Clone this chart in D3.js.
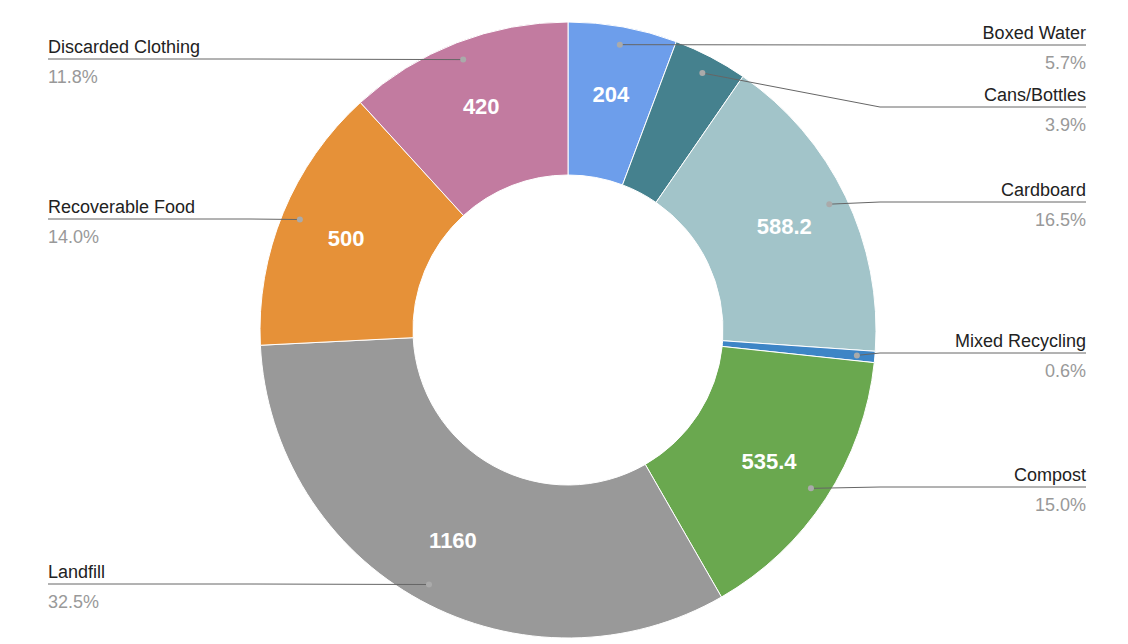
<!DOCTYPE html>
<html><head><meta charset="utf-8">
<script src="https://cdn.jsdelivr.net/npm/d3@7"></script>
<style>body{margin:0;background:#fff}</style></head>
<body><svg id="c" width="1128" height="644"></svg>
<script>
const categories=["Boxed Water","Cans/Bottles","Cardboard","Mixed Recycling","Compost","Landfill","Recoverable Food","Discarded Clothing"];
const values=[204,139,588.2,21,535.4,1160,500,420];
const percents=["5.7%","3.9%","16.5%","0.6%","15.0%","32.5%","14.0%","11.8%"];
const valueLabels=["204","","588.2","","535.4","1160","500","420"];
const colors=["#6d9eeb","#45818e","#a2c4c9","#3d85c6","#6aa84f","#999999","#e69138","#c27ba0"];
const labelY=[45,107,202,353,487,584,219,59];

const svg=d3.select("#c"),cx=568,cy=330,R=308,r=155;
const g=svg.append("g").attr("transform",`translate(${cx},${cy})`);
const pie=d3.pie().sort(null).value(d=>d)(values);
const arc=d3.arc().innerRadius(r).outerRadius(R);
g.selectAll("path.s").data(pie).join("path").attr("d",arc).attr("fill",(d,i)=>colors[i]).attr("stroke","#fff").attr("stroke-width",1);
const lab=d3.arc().innerRadius(240).outerRadius(240);
g.selectAll("text.v").data(pie).join("text").attr("transform",d=>`translate(${lab.centroid(d)})`)
 .attr("text-anchor","middle").attr("dy","0.35em").attr("fill","#fff").attr("font-weight","bold")
 .attr("font-family","Arial, Liberation Sans, sans-serif").attr("font-size",22).text((d,i)=>valueLabels[i]);
const dotArc=d3.arc().innerRadius(290).outerRadius(290);
pie.forEach((d,i)=>{
  const [dx,dy]=dotArc.centroid(d);const px=cx+dx,py=cy+dy;
  const right=(d.startAngle+d.endAngle)/2<Math.PI;
  const ly=labelY[i];
  const ex=right?Math.max(px,880):Math.min(px,250);
  const tx=right?1086:48;
  svg.append("path").attr("d",`M${px},${py}L${ex},${ly}L${tx},${ly}`).attr("fill","none").attr("stroke","#666").attr("stroke-width",1);
  svg.append("circle").attr("cx",px).attr("cy",py).attr("r",3).attr("fill","#aaa");
  const anchor=right?"end":"start";
  svg.append("text").attr("x",tx).attr("y",ly-6).attr("text-anchor",anchor).attr("font-family","Arial, Liberation Sans, sans-serif").attr("font-size",18).attr("fill","#222").text(categories[i]);
  svg.append("text").attr("x",tx).attr("y",ly+24).attr("text-anchor",anchor).attr("font-family","Arial, Liberation Sans, sans-serif").attr("font-size",18).attr("fill","#999").text(percents[i]);
});
</script></body></html>
